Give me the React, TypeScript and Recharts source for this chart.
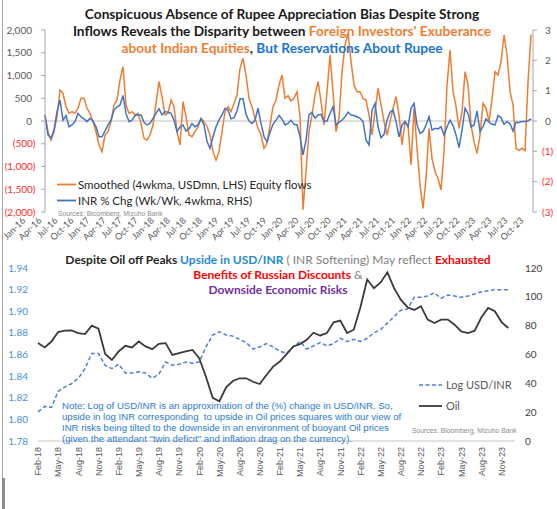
import React from 'react';
import { LineChart, Line, XAxis, YAxis, ReferenceLine } from 'recharts';

// top panel: equity flows (USDmn, 4wkma) and INR % chg (wk/wk, 4wkma), readings from Jan-16
const FLOWS_USDMN = [
  132, -235, -418, -235, 95, 682, 608, 315, 169, 205,
  169, 279, 498, 498, 279, 169, -15, -235, -528, -674,
  -308, -235, -15, 352, 462, 902, 1195, 352, 169, 205,
  132, 169, -51, -381, -418, -308, -88, 388, 865, 535,
  132, 169, 462, 315, -235, -528, 425, 95, -308, -345,
  -235, -125, 59, -15, -120, -308, -674, -858, -674, -235,
  205, 315, 205, 388, 572, 1158, 1378, 1011, 498, 315,
  59, -161, -308, -601, -491, -88, 315, 462, 792, 1011,
  498, 557, 440, 498, 645, 95, -1950, -1100, -235, 132,
  572, 865, 425, -88, 645, 1451, 645, -235, 59, 1085,
  1671, 1928, 1305, 792, 645, 645, 498, 462, 132, -308,
  205, 718, 352, -15, -308, -15, 279, 535, 132, -528,
  -15, -88, -968, 279, -601, -1407, -1920, -1261, -161, -821,
  -1114, -1261, -1517, -674, 792, 1561, 645, 315, -161, 205,
  1085, 792, -88, -454, -711, -308, 388, 279, -15, 498,
  1085, 1011, 1305, 1891, 1451, 645, 352, -600, -650, -600,
  -650, 865, 1900,
];

const INR_CHG = [
  0.2, -0.46, -0.57, -0.3, 0.31, 0.69, 0.03, 0.18, -0.19, -0.13,
  -0.02, 0.25, 0.14, 0.07, -0.02, 0.09, 0, -0.19, -0.52, -0.52,
  -0.33, -0.13, 0.03, 0.36, 0.47, 0.53, 0.84, 0.25, -0.02, 0.03,
  0.18, 0.2, 0.2, -0.04, -0.13, -0.08, 0.09, 0.25, 0.4, 0.2,
  0.31, 0.29, 0.25, 0.03, -0.35, -0.19, -0.13, -0.33, -0.26, -0.08,
  -0.19, -0.13, 0.07, -0.13, -0.68, -0.9, -0.52, -0.19, 0.03, 0.2,
  0.42, 0.36, 0.07, 0.11, 0.33, 0.73, 0.73, 0.22, 0, -0.08,
  0.03, 0.42, -0.08, -0.52, -0.68, -0.37, -0.11, 0.03, 0.18, 0.07,
  -0.13, -0.08, 0.03, -0.11, -0.13, -0.52, -1.12, -0.63, 0.2, 0.29,
  0.09, 0.2, 0.22, -0.02, 0, 0.25, 0.47, -0.13, -0.04, 0.03,
  0.14, 0.29, 0.2, 0.18, 0.14, 0.09, -0.02, -0.63, -0.79, 0.36,
  0.58, -0.19, -0.55, -0.44, 0.03, 0.29, 0.36, -0.02, -0.52, -0.13,
  -0.02, -0.19, 0.42, 0.58, -0.13, -0.41, -0.35, -0.13, 0.14, -0.3,
  -0.24, -0.26, -0.19, -0.46, -0.19, 0.03, -0.15, -0.46, -0.88, -0.3,
  0.42, 0.25, -0.19, -0.13, 0.33, -0.35, -0.19, 0.07, -0.04, -0.11,
  -0.13, 0.18, 0.11, -0.11, -0.02, -0.09, -0.33, -0.04, -0.05, -0.02,
  -0.02, 0.01, 0.07,
];

const STEP_MONTHS = 0.581; // spacing of readings, in months after Jan-16

const TOP_LABELS = [
  'Jan-16', 'Apr-16', 'Jul-16', 'Oct-16', 'Jan-17', 'Apr-17', 'Jul-17', 'Oct-17',
  'Jan-18', 'Apr-18', 'Jul-18', 'Oct-18', 'Jan-19', 'Apr-19', 'Jul-19', 'Oct-19',
  'Jan-20', 'Apr-20', 'Jul-20', 'Oct-20', 'Jan-21', 'Apr-21', 'Jul-21', 'Oct-21',
  'Jan-22', 'Apr-22', 'Jul-22', 'Oct-22', 'Jan-23', 'Apr-23', 'Jul-23', 'Oct-23',
];
const LHS_TICKS = [-2000, -1500, -1000, -500, 0, 500, 1000, 1500, 2000];
const RHS_TICKS = [-3, -2, -1, 0, 1, 2, 3];

// bottom panel: monthly from Feb-18
const LOG_USDINR = [
  1.807, 1.812, 1.811, 1.826, 1.83, 1.833, 1.838, 1.847, 1.861, 1.861,
  1.85, 1.847, 1.851, 1.843, 1.843, 1.844, 1.843, 1.838, 1.842, 1.853,
  1.85, 1.851, 1.853, 1.852, 1.853, 1.867, 1.878, 1.881, 1.878, 1.877,
  1.874, 1.871, 1.865, 1.867, 1.87, 1.867, 1.863, 1.861, 1.867, 1.872,
  1.865, 1.868, 1.871, 1.868, 1.87, 1.875, 1.872, 1.874, 1.872, 1.875,
  1.88, 1.883, 1.889, 1.895, 1.901, 1.902, 1.913, 1.913, 1.914, 1.917,
  1.912, 1.915, 1.914, 1.913, 1.914, 1.916, 1.918, 1.919, 1.92, 1.92,
  1.92,
];
const OIL = [
  67.9, 64.9, 69.0, 75.6, 76.5, 76.7, 74.9, 74.2, 80.0, 77.9,
  60.4, 56.2, 62.1, 66.0, 64.9, 69.0, 65.6, 63.7, 67.4, 67.9,
  59.7, 60.9, 62.1, 63.2, 57.4, 44.6, 30.0, 27.6, 37.2, 41.6,
  43.5, 43.5, 41.1, 39.5, 45.8, 51.6, 55.1, 60.2, 65.6, 67.2,
  70.2, 75.1, 73.2, 74.9, 82.3, 83.5, 74.9, 77.2, 93, 112,
  106, 110, 117, 106, 98, 92.8, 90.9, 93.5, 84.2, 81.8,
  84.2, 84.2, 80.7, 76.0, 74.9, 76.5, 85.8, 92.3, 90.0, 82.5,
  78.4,
];
const BOTTOM_LABELS = [
  'Feb-18', 'May-18', 'Aug-18', 'Nov-18', 'Feb-19', 'May-19', 'Aug-19', 'Nov-19',
  'Feb-20', 'May-20', 'Aug-20', 'Nov-20', 'Feb-21', 'May-21', 'Aug-21', 'Nov-21',
  'Feb-22', 'May-22', 'Aug-22', 'Nov-22', 'Feb-23', 'May-23', 'Aug-23', 'Nov-23',
];
const LOG_TICKS = [1.78, 1.8, 1.82, 1.84, 1.86, 1.88, 1.9, 1.92, 1.94];
const OIL_TICKS = [0, 20, 40, 60, 80, 100, 120];

const topData = FLOWS_USDMN.map((v, i) => ({ t: i * STEP_MONTHS, flows: v, inr: INR_CHG[i] }));
const bottomData = LOG_USDINR.map((v, i) => ({ m: i, log: v, oil: OIL[i] }));

const ORANGE = '#ED7D31';
const BLUE = '#4472C4';
const RED = '#FF2A2A';
const GREY = '#595959';
const FONT = 'Lato, sans-serif';
const ARIAL = "'Liberation Sans', Arial, sans-serif";

const fmtLhs = (v: number) => {
  const s = Math.abs(v).toLocaleString('en-US');
  return v < 0 ? `(${s})` : s;
};

function LhsTick({ x, y, payload }: any) {
  const neg = payload.value < 0;
  return (
    <text x={x - (neg ? 5.5 : 9)} y={y} dy="0.35em" textAnchor="end" fontSize={10} fontFamily={FONT} fill={neg ? RED : GREY}>
      {fmtLhs(payload.value)}
    </text>
  );
}

function RhsTick({ x, y, payload }: any) {
  const neg = payload.value < 0;
  return (
    <text x={x + (neg ? 5 : 8)} y={y} dy="0.35em" textAnchor="start" fontSize={10} fontFamily={FONT} fill={neg ? RED : GREY}>
      {neg ? `(${Math.abs(payload.value)})` : payload.value}
    </text>
  );
}

function TopDateTick({ x, y, payload }: any) {
  const q = Math.round(payload.value / 3);
  const drift = -19 + q * 0.58;
  return (
    <text transform={`translate(${x + drift},${y + 9}) rotate(-45)`} textAnchor="end" fontSize={9} fontFamily={FONT} fill={GREY}>
      {TOP_LABELS[q]}
    </text>
  );
}

function BottomDateTick({ x, y, payload }: any) {
  const q = Math.round(payload.value / 3);
  return (
    <text transform={`translate(${x + 3.3},${y + 6}) rotate(-90)`} textAnchor="end" fontSize={9} fontFamily={ARIAL} fill={GREY}>
      {BOTTOM_LABELS[q]}
    </text>
  );
}

function LogTick({ x, y, payload }: any) {
  return (
    <text x={x - 10} y={y} dy="0.35em" textAnchor="end" fontSize={10} fontFamily={FONT} fill="#4A90D9">
      {payload.value.toFixed(2)}
    </text>
  );
}

function OilTick({ x, y, payload }: any) {
  return (
    <text x={x + 10} y={y} dy="0.35em" textAnchor="start" fontSize={10} fontFamily={FONT} fill="#404040">
      {payload.value}
    </text>
  );
}

export default function App() {
  return (
    <div style={{ position: 'absolute', left: 0, top: 0, width: 557, height: 509, background: '#fff', overflow: 'hidden' }}>
      <div style={{ position: 'absolute', left: 0, top: 0 }}>
        <LineChart width={557} height={262} data={topData} margin={{ top: 30, right: 0, bottom: 0, left: 0 }}>
          <XAxis
            dataKey="t"
            type="number"
            domain={[0, 94.5]}
            ticks={TOP_LABELS.map((_, i) => i * 3)}
            interval={0}
            tick={(p: any) => <TopDateTick {...p} />}
            axisLine={false}
            tickLine={false}
            tickSize={0}
            tickMargin={0}
            height={50}
          />
          <YAxis
            yAxisId="l"
            domain={[-2000, 2000]}
            ticks={LHS_TICKS}
            interval={0}
            width={45}
            tick={(p: any) => <LhsTick {...p} />}
            axisLine={{ stroke: '#A6A6A6' }}
            tickLine={{ stroke: '#A6A6A6' }}
            tickSize={4}
            tickMargin={0}
          />
          <YAxis
            yAxisId="r"
            orientation="right"
            domain={[-3, 3]}
            ticks={RHS_TICKS}
            interval={0}
            width={24}
            tick={(p: any) => <RhsTick {...p} />}
            axisLine={{ stroke: '#A6A6A6' }}
            tickLine={{ stroke: '#A6A6A6' }}
            tickSize={4}
            tickMargin={0}
          />
          <ReferenceLine yAxisId="l" y={0} stroke="#BFBFBF" strokeWidth={1.2} />
          <Line yAxisId="l" type="linear" dataKey="flows" stroke={ORANGE} strokeWidth={1.5} dot={false} isAnimationActive={false} />
          <Line yAxisId="r" type="linear" dataKey="inr" stroke={BLUE} strokeWidth={1.5} dot={false} isAnimationActive={false} />
        </LineChart>
      </div>

      <div style={{ position: 'absolute', left: 0, top: 250 }}>
        <LineChart width={557} height={231} data={bottomData} margin={{ top: 18, right: 0, bottom: 0, left: 0 }}>
          <XAxis
            dataKey="m"
            type="number"
            domain={[0, 71]}
            ticks={BOTTOM_LABELS.map((_, i) => i * 3)}
            interval={0}
            tick={(p: any) => <BottomDateTick {...p} />}
            axisLine={{ stroke: '#D9D9D9', strokeWidth: 1.5 }}
            tickLine={false}
            tickSize={0}
            tickMargin={0}
            height={40}
          />
          <YAxis
            yAxisId="l"
            domain={[1.78, 1.94]}
            ticks={LOG_TICKS}
            interval={0}
            width={38}
            tick={(p: any) => <LogTick {...p} />}
            axisLine={false}
            tickLine={false}
            tickSize={0}
            tickMargin={0}
          />
          <YAxis
            yAxisId="r"
            orientation="right"
            domain={[0, 120]}
            ticks={OIL_TICKS}
            interval={0}
            width={42}
            tick={(p: any) => <OilTick {...p} />}
            axisLine={false}
            tickLine={false}
            tickSize={0}
            tickMargin={0}
          />
          <Line yAxisId="l" type="linear" dataKey="log" stroke="#4F7FD6" strokeWidth={1.5} strokeDasharray="4 2.5" dot={false} isAnimationActive={false} />
          <Line yAxisId="r" type="linear" dataKey="oil" stroke="#3A3A3A" strokeWidth={1.8} dot={false} isAnimationActive={false} />
        </LineChart>
      </div>

      {/* titles */}
      <div style={{ position: 'absolute', left: 0, top: 5, width: 564, textAlign: 'center', fontFamily: FONT, fontWeight: 700, fontSize: 13.7, lineHeight: '17px', color: '#1A1A1A', whiteSpace: 'nowrap' }}>
        <div>Conspicuous Absence of Rupee Appreciation Bias Despite Strong</div>
        <div>
          Inflows Reveals the Disparity between <span style={{ color: '#F07F32' }}>Foreign Investors' Exuberance</span>
        </div>
        <div>
          <span style={{ color: '#F07F32' }}>about Indian Equities</span>, <span style={{ color: '#1B75D0' }}>But Reservations About Rupee</span>
        </div>
      </div>

      <div style={{ position: 'absolute', left: 0, top: 251.5, width: 556, textAlign: 'center', fontFamily: FONT, fontSize: 12, lineHeight: '15px', color: '#262626', whiteSpace: 'nowrap' }}>
        <div>
          <b>Despite Oil off Peaks </b>
          <b style={{ color: '#1F8AD6' }}>Upside in USD/INR</b>
          <span style={{ color: '#7F7F7F' }}> ( INR Softening) May reflect </span>
          <b style={{ color: '#FF0000' }}>Exhausted</b>
        </div>
        <div>
          <b style={{ color: '#FF0000' }}>Benefits of Russian Discounts</b>
          <span style={{ color: '#7F7F7F' }}> &amp;</span>
        </div>
        <div>
          <b style={{ color: '#7030A0' }}>Downside Economic Risks</b>
        </div>
      </div>

      {/* note */}
      <div style={{ position: 'absolute', left: 62, top: 399.5, fontFamily: ARIAL, fontSize: 9.6, lineHeight: '11.1px', color: '#2B7BD0', whiteSpace: 'pre' }}>
        <div>Note: Log of USD/INR is an approximation of the (%) change in USD/INR. So,</div>
        <div>upside in log INR corresponding  to upside in Oil prices squares with our view of</div>
        <div>INR risks being tilted to the downside in an environment of buoyant Oil prices</div>
        <div>(given the attendant "twin deficit" and inflation drag on the currency).</div>
      </div>

      {/* legends, sources, frame */}
      <svg width={557} height={509} style={{ position: 'absolute', left: 0, top: 0, pointerEvents: 'none' }}>
        <line x1={57} x2={76} y1={184.5} y2={184.5} stroke={ORANGE} strokeWidth={1.8} />
        <text x={78} y={185} dy="0.35em" fontSize={11.5} fontFamily={FONT} fill="#262626">Smoothed (4wkma, USDmn, LHS) Equity flows</text>
        <line x1={57} x2={76} y1={200.5} y2={200.5} stroke={BLUE} strokeWidth={1.8} />
        <text x={78} y={201} dy="0.35em" fontSize={11.5} fontFamily={FONT} fill="#262626">INR % Chg (Wk/Wk, 4wkma, RHS)</text>
        <text x={58} y={214} dy="0.35em" fontSize={6.8} fontFamily={ARIAL} fill="#8C8C8C">Sources: Bloomberg, Mizuho Bank</text>

        <line x1={419} x2={442} y1={385} y2={385} stroke="#4F7FD6" strokeWidth={1.5} strokeDasharray="4 2.5" />
        <text x={446} y={385} dy="0.35em" fontSize={11} fontFamily={FONT} fill={GREY}>Log USD/INR</text>
        <line x1={419} x2={442} y1={406} y2={406} stroke="#3A3A3A" strokeWidth={1.8} />
        <text x={446} y={406} dy="0.35em" fontSize={11} fontFamily={FONT} fill={GREY}>Oil</text>
        <text x={412} y={431} dy="0.35em" fontSize={6.8} fontFamily={ARIAL} fill="#8C8C8C">Sources: Bloomberg, Mizuho Bank</text>

        <line x1={2.5} x2={2.5} y1={0} y2={478} stroke="#A6A6A6" strokeWidth={1} />
        <line x1={3.5} x2={3.5} y1={478} y2={509} stroke="#8C8C8C" strokeWidth={3} />
      </svg>
    </div>
  );
}
